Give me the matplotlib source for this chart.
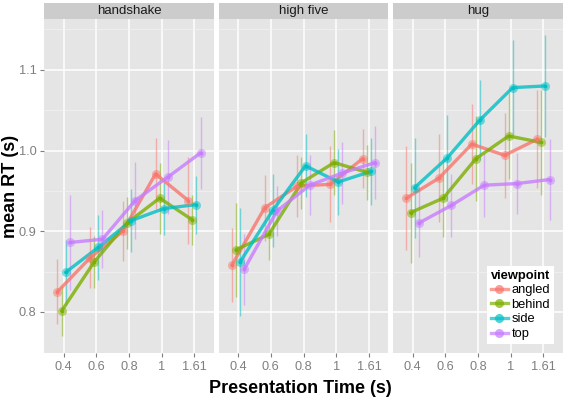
import matplotlib
matplotlib.use("Agg")
import matplotlib.pyplot as plt
from matplotlib.lines import Line2D
import numpy as np

plt.rcParams['font.family'] = ['Liberation Sans', 'DejaVu Sans']

times = ["0.4", "0.6", "0.8", "1", "1.61"]
interactions = ["handshake", "high five", "hug"]
viewpoints = ["angled", "behind", "side", "top"]
colors = ["#F8766D", "#7CAE00", "#00BFC4", "#C77CFF"]

# rows: angled, behind, side, top ; columns: times
handshake_mean = [
    [0.825, 0.867, 0.900, 0.971, 0.938],
    [0.801, 0.862, 0.910, 0.941, 0.914],
    [0.849, 0.880, 0.913, 0.928, 0.933],
    [0.886, 0.890, 0.938, 0.967, 0.997],
]
handshake_err = [
    [0.040, 0.038, 0.037, 0.044, 0.054],
    [0.031, 0.032, 0.032, 0.044, 0.031],
    [0.040, 0.040, 0.039, 0.033, 0.036],
    [0.059, 0.036, 0.048, 0.046, 0.045],
]
highfive_mean = [
    [0.858, 0.929, 0.956, 0.958, 0.990],
    [0.877, 0.896, 0.960, 0.985, 0.973],
    [0.862, 0.926, 0.981, 0.961, 0.974],
    [0.853, 0.925, 0.957, 0.972, 0.985],
]
highfive_err = [
    [0.046, 0.041, 0.038, 0.047, 0.037],
    [0.058, 0.032, 0.032, 0.040, 0.034],
    [0.067, 0.045, 0.039, 0.041, 0.042],
    [0.044, 0.031, 0.037, 0.038, 0.045],
]
hug_mean = [
    [0.941, 0.966, 1.008, 0.994, 1.014],
    [0.923, 0.941, 0.990, 1.018, 1.010],
    [0.954, 0.991, 1.038, 1.078, 1.080],
    [0.910, 0.932, 0.957, 0.959, 0.964],
]
hug_err = [
    [0.064, 0.055, 0.050, 0.053, 0.061],
    [0.062, 0.048, 0.053, 0.053, 0.065],
    [0.062, 0.053, 0.050, 0.059, 0.063],
    [0.042, 0.039, 0.040, 0.038, 0.050],
]

means = [handshake_mean, highfive_mean, hug_mean]
errs = [handshake_err, highfive_err, hug_err]

W, H = 567, 398
fig = plt.figure(figsize=(W / 100, H / 100), dpi=100)
fig.patch.set_facecolor('white')

panel_lefts = [44, 218.5, 393]
pw = 170
top_px, bot_px = 19, 353
offsets = [-0.1875, -0.0625, 0.0625, 0.1875]
grey50 = '#7F7F7F'

axes = []
for p, (left, name) in enumerate(zip(panel_lefts, interactions)):
    ax = fig.add_axes([left / W, (H - bot_px) / H, pw / W, (bot_px - top_px) / H])
    strip = fig.add_axes([left / W, (H - top_px) / H, pw / W, 16 / H])
    strip.set_facecolor('#CCCCCC')
    strip.set_xticks([]); strip.set_yticks([])
    for s in strip.spines.values():
        s.set_visible(False)
    strip.text(0.5, 0.48, name, ha='center', va='center', fontsize=9.5,
               color='#1A1A1A', transform=strip.transAxes)

    ax.set_facecolor('#E5E5E5')
    ax.set_xlim(-0.6, 4.6)
    ax.set_ylim(0.749, 1.163)
    ax.set_xticks(np.arange(len(times)))
    ax.set_xticklabels(times)
    ax.set_yticks([0.8, 0.9, 1.0, 1.1])
    ax.set_yticklabels(["0.8", "0.9", "1.0", "1.1"])
    ax.set_yticks([0.85, 0.95, 1.05, 1.15], minor=True)
    ax.grid(which='major', color='white', lw=1.1)
    ax.grid(which='minor', axis='y', color='#F2F2F2', lw=0.5)
    ax.set_axisbelow(True)
    for s in ax.spines.values():
        s.set_visible(False)
    ax.tick_params(axis='both', which='major', length=3, width=0.8, color=grey50,
                   labelcolor=grey50, labelsize=9.2, pad=2.5)
    ax.tick_params(axis='y', which='minor', length=0)
    if p > 0:
        ax.tick_params(axis='y', left=False, labelleft=False)

    m_all = means[p]
    e_all = errs[p]
    x0 = np.arange(len(times))
    for i, c in enumerate(colors):
        xs = x0 + offsets[i]
        m = np.array(m_all[i])
        e = np.array(e_all[i])
        ax.vlines(xs, m - e, m + e, color=c, alpha=0.5, lw=1.0, zorder=2)
    for i, c in enumerate(colors):
        xs = x0 + offsets[i]
        ax.plot(xs, m_all[i], color=c, lw=2.4, alpha=0.8, solid_capstyle='round',
                solid_joinstyle='round', zorder=3)
    for i, c in enumerate(colors):
        xs = x0 + offsets[i]
        ax.plot(xs, m_all[i], 'o', ms=6.5, color=c, alpha=0.5, mec='none', zorder=4)
        ax.plot(xs, m_all[i], 'o', ms=2.8, color=c, alpha=0.9, mec='none', zorder=5)
    axes.append(ax)

handles = [Line2D([0], [0], color=c, lw=2.4, alpha=0.7, marker='o', ms=6.5,
                  mec='none') for c in colors]
leg = axes[2].legend(handles, viewpoints, title='viewpoint', loc='lower right',
                     bbox_to_anchor=(0.947, 0.027), borderaxespad=0, fontsize=9.3,
                     title_fontproperties={'weight': 'bold', 'size': 9.3},
                     frameon=True, facecolor='white', edgecolor='none', framealpha=1,
                     fancybox=False, handlelength=1.3, labelspacing=0.2,
                     handletextpad=0.3, borderpad=0.3, alignment='left')

fig.text(300 / W, 1 - 393 / H, "Presentation Time (s)", ha='center', va='baseline',
         fontsize=13, fontweight='bold')
fig.text(10.5 / W, 1 - 186 / H, "mean RT (s)", ha='center', va='center', rotation=90,
         fontsize=13, fontweight='bold')

fig.savefig("out.png", dpi=100)
